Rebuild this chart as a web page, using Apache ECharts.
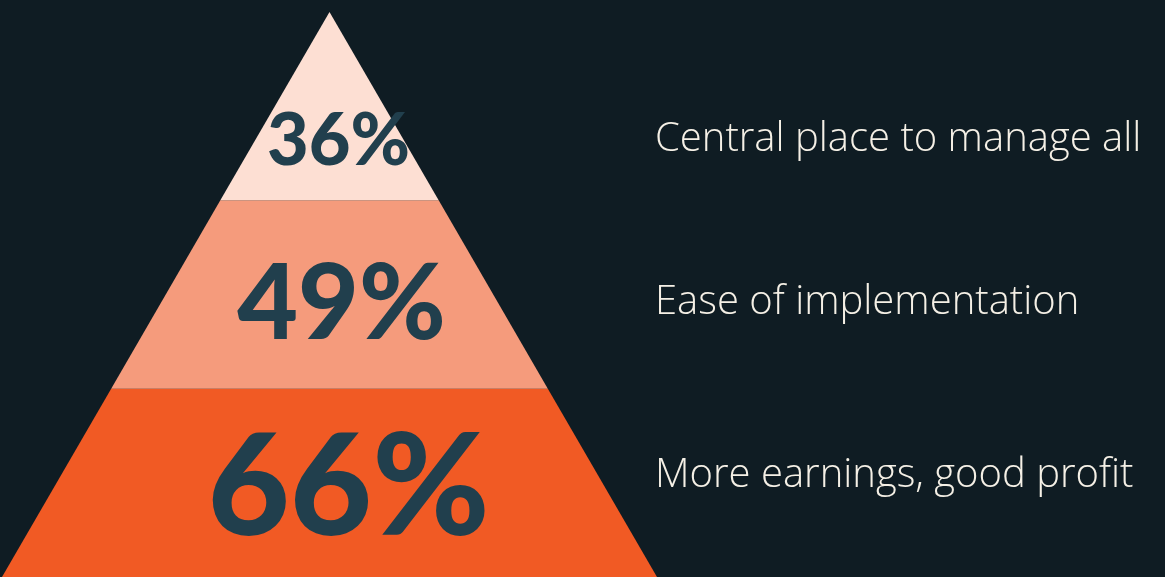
<!DOCTYPE html>
<html><head><meta charset="utf-8">
<script src="https://cdn.jsdelivr.net/npm/echarts@6/dist/echarts.min.js"></script>
<style>html,body{margin:0;padding:0;background:#0f1c23;}#c{width:1165px;height:577px;}</style>
</head><body><div id="c"></div>
<script>
// bottom -> top
const categories = ['More earnings, good profit', 'Ease of implementation', 'Central place to manage all'];
const values = [66, 49, 36];
const levels = [0, 1, 2];

// styling / layout constants
const bandColors = ['#f15a24', '#f59b7c', '#fddfd3'];
const pctFontSize = [142, 105, 72];
const pctXOffset = [19, 12, 9];
const pctYPos = [0.466, 0.445, 0.313];
const labelYPos = [0.536, 0.455, 0.32];

const chart = echarts.init(document.getElementById('c'));
const nLev = levels.length;
const hw = y => (nLev - y) / nLev;

chart.setOption({
  backgroundColor: '#0f1c23',
  animation: false,
  grid: { left: 2, width: 655, top: 12, height: 565 },
  xAxis: { type: 'value', min: -1, max: 1, show: false },
  yAxis: { type: 'value', min: 0, max: nLev, show: false },
  series: [{
    type: 'custom',
    data: levels.map((l, i) => [l, values[i]]),
    renderItem: function (params, api) {
      const i = params.dataIndex;
      const lvl = api.value(0);
      const y0 = lvl, y1 = lvl + 1;
      const pts = [[-hw(y0), y0], [hw(y0), y0], [hw(y1), y1], [-hw(y1), y1]].map(p => api.coord(p));
      const tc = api.coord([0, lvl + pctYPos[i]]);
      const lc = api.coord([1, lvl + labelYPos[i]]);
      return {
        type: 'group',
        children: [
          { type: 'polygon', shape: { points: pts }, style: { fill: bandColors[i] } },
          { type: 'text', x: tc[0] + pctXOffset[i], y: tc[1],
            style: { text: api.value(1) + '%', fill: '#213f4d',
              font: '900 ' + pctFontSize[i] + 'px Lato', align: 'center', verticalAlign: 'middle' } },
          { type: 'text', x: lc[0] - 2, y: lc[1],
            style: { text: categories[i], fill: '#f5f0e6',
              font: '300 40px "Open Sans"', align: 'left', verticalAlign: 'middle' } }
        ]
      };
    }
  }]
});
</script></body></html>
